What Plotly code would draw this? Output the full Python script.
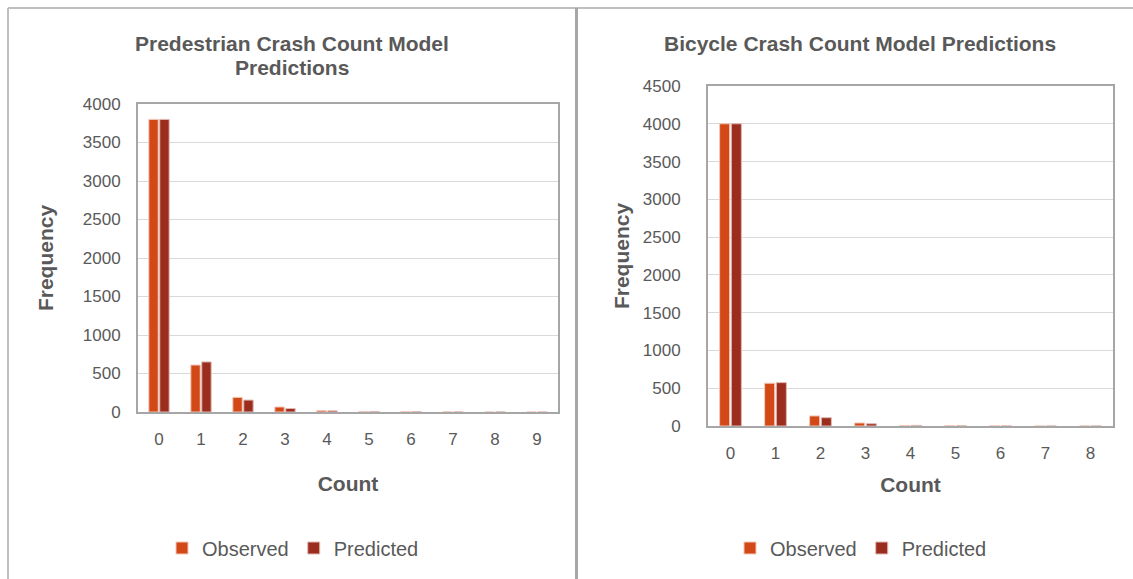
import plotly.graph_objects as go

W, H = 1133, 579

ped_counts = ["0", "1", "2", "3", "4", "5", "6", "7", "8", "9"]
ped_observed = [3800, 610, 190, 65, 18, 6, 3, 1, 0, 0]
ped_predicted = [3800, 650, 155, 45, 15, 7, 3, 1, 0.5, 0.3]

bike_counts = ["0", "1", "2", "3", "4", "5", "6", "7", "8"]
bike_observed = [4000, 566, 133, 40, 6, 2, 1, 0, 0]
bike_predicted = [4000, 574, 110, 30, 8, 2, 1, 0, 0]

OBS = "#D34817"
PRED = "#9B2D1F"
TXT = "#595959"
FONT = "Liberation Sans, Arial, sans-serif"

def px(x):
    return x / W

def py(y):
    return 1 - y / H

fig = go.Figure()

fig.add_trace(go.Bar(x=ped_counts, y=ped_observed, name="Observed", marker=dict(color=OBS, line=dict(color="#F2C7B8", width=1)), xaxis="x", yaxis="y", legend="legend"))
fig.add_trace(go.Bar(x=ped_counts, y=ped_predicted, name="Predicted", marker=dict(color=PRED, line=dict(color="#E0B8B2", width=1)), xaxis="x", yaxis="y", legend="legend"))
fig.add_trace(go.Bar(x=bike_counts, y=bike_observed, name="Observed", marker=dict(color=OBS, line=dict(color="#F2C7B8", width=1)), xaxis="x2", yaxis="y2", legend="legend2"))
fig.add_trace(go.Bar(x=bike_counts, y=bike_predicted, name="Predicted", marker=dict(color=PRED, line=dict(color="#E0B8B2", width=1)), xaxis="x2", yaxis="y2", legend="legend2"))

axis_common = dict(
    showline=True, linecolor="#A6A6A6", linewidth=2, mirror=True,
    tickfont=dict(family=FONT, size=17, color=TXT),
    ticks="", zeroline=False, automargin=False,
)
title_font = dict(family=FONT, size=21, color=TXT)

fig.update_layout(
    width=W, height=H,
    margin=dict(l=0, r=0, t=0, b=0, autoexpand=False),
    paper_bgcolor="white", plot_bgcolor="white",
    barmode="group", bargap=0.48, bargroupgap=0.14,
    font=dict(family=FONT, color=TXT),
    xaxis=dict(domain=[px(138), px(558)], anchor="y", type="category",
               title=dict(text="<b>Count</b>", font=title_font, standoff=28),
               ticklabelstandoff=11, **axis_common),
    yaxis=dict(domain=[py(412), py(104)], anchor="x", range=[0, 4000], dtick=500,
               showgrid=True, gridcolor="#D9D9D9", gridwidth=1,
               title=dict(text="<b>Frequency</b>", font=title_font, standoff=23),
               ticklabelstandoff=12, **axis_common),
    xaxis2=dict(domain=[px(708), px(1113)], anchor="y2", type="category",
                title=dict(text="<b>Count</b>", font=title_font, standoff=15),
                ticklabelstandoff=11, **axis_common),
    yaxis2=dict(domain=[py(426), py(86)], anchor="x2", range=[0, 4500], dtick=500,
                showgrid=True, gridcolor="#D9D9D9", gridwidth=1,
                title=dict(text="<b>Frequency</b>", font=title_font, standoff=7),
                ticklabelstandoff=22, **axis_common),
    legend=dict(orientation="h", x=px(293), xanchor="center", y=py(548), yanchor="middle",
                font=dict(family=FONT, size=20, color=TXT), bgcolor="rgba(0,0,0,0)", itemwidth=30,
                traceorder="normal"),
    legend2=dict(orientation="h", x=px(861), xanchor="center", y=py(548), yanchor="middle",
                 font=dict(family=FONT, size=20, color=TXT), bgcolor="rgba(0,0,0,0)", itemwidth=30,
                 traceorder="normal"),
    annotations=[
        dict(text="<b>Predestrian Crash Count Model</b>", x=px(292), y=py(43), xref="paper", yref="paper",
             xanchor="center", yanchor="middle", showarrow=False, font=title_font),
        dict(text="<b>Predictions</b>", x=px(292), y=py(67), xref="paper", yref="paper",
             xanchor="center", yanchor="middle", showarrow=False, font=title_font),
        dict(text="<b>Bicycle Crash Count Model Predictions</b>", x=px(860), y=py(43), xref="paper", yref="paper",
             xanchor="center", yanchor="middle", showarrow=False, font=title_font),
    ],
    shapes=[
        dict(type="line", xref="paper", yref="paper", x0=px(8), x1=px(8), y0=py(8), y1=0, line=dict(color="#BFBFBF", width=2)),
        dict(type="line", xref="paper", yref="paper", x0=px(8), x1=1, y0=py(8), y1=py(8), line=dict(color="#BFBFBF", width=2)),
        dict(type="line", xref="paper", yref="paper", x0=px(576.5), x1=px(576.5), y0=py(8), y1=0, line=dict(color="#A6A6A6", width=3)),
    ],
)

fig.write_html("out.html", config={"displayModeBar": False},
               post_script="document.body.style.margin='0';document.body.style.overflow='hidden';")
